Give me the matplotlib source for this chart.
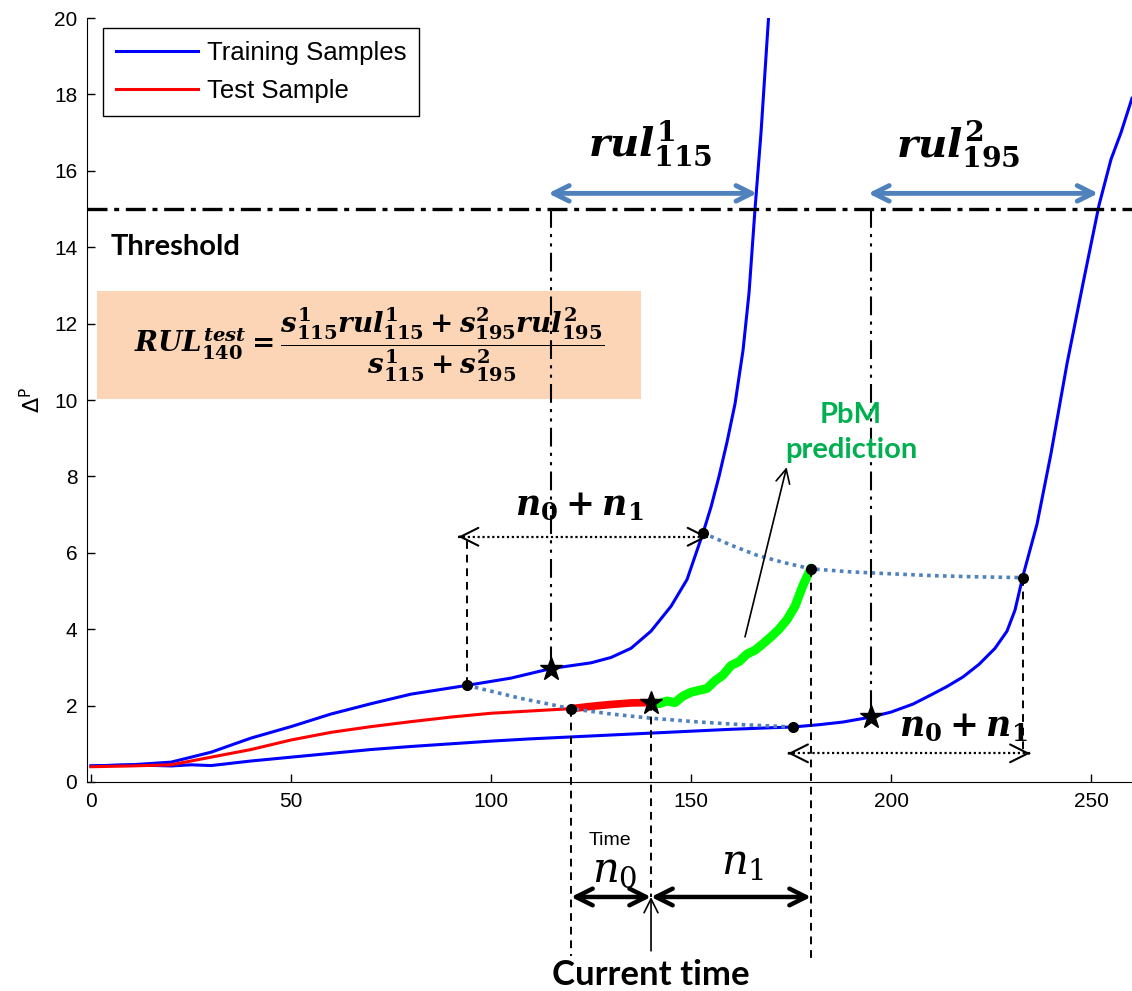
import matplotlib
matplotlib.use('Agg')
import matplotlib.pyplot as plt
from matplotlib.patches import Rectangle

plt.rcParams['font.family'] = 'Liberation Sans'
# bold italic serif for the "Cambria Math" style formulas
plt.rcParams['mathtext.it'] = 'DejaVu Serif:italic:bold'
plt.rcParams['mathtext.rm'] = 'DejaVu Serif:bold'
plt.rcParams['mathtext.bf'] = 'DejaVu Serif:bold'

# training sample 1 (fails first)
train1_t = [0, 10, 20, 30, 40, 50, 60, 70, 80, 94, 105, 115, 125, 130, 135, 140, 145, 149,
            153, 155, 157, 159, 161, 163, 164.5, 166, 167.5, 169.5]
train1_y = [0.42, 0.45, 0.52, 0.78, 1.15, 1.45, 1.78, 2.05, 2.3, 2.53, 2.72, 2.97, 3.12, 3.26,
            3.5, 3.95, 4.6, 5.3, 6.52, 7.2, 8.0, 8.9, 9.9, 11.3, 12.8, 15.0, 17.0, 20.2]

# training sample 2
train2_t = [0, 10, 20, 25, 30, 40, 50, 60, 70, 80, 90, 100, 110, 120, 130, 140, 150, 160, 170,
            175.5, 182, 188, 195, 200, 205.5, 210, 214, 218, 222, 226, 229, 231, 233, 236.5,
            240, 244, 248, 252, 255, 257.5, 260.25]
train2_y = [0.42, 0.45, 0.42, 0.45, 0.43, 0.55, 0.65, 0.75, 0.85, 0.93, 1.0, 1.07, 1.13, 1.18,
            1.23, 1.28, 1.33, 1.38, 1.42, 1.44, 1.5, 1.57, 1.7, 1.83, 2.04, 2.28, 2.5, 2.75,
            3.08, 3.5, 3.95, 4.5, 5.4, 6.75, 8.6, 10.95, 13.05, 15.1, 16.3, 17.0, 17.9]

# test sample, history and the n0 window
test_t = [0, 10, 20, 25, 30, 40, 50, 60, 70, 80, 90, 100, 110, 120]
test_y = [0.4, 0.42, 0.45, 0.55, 0.65, 0.85, 1.1, 1.3, 1.45, 1.58, 1.7, 1.8, 1.86, 1.92]
window_t = [120, 125, 130, 135, 140]
window_y = [1.92, 1.98, 2.03, 2.07, 2.08]

# PbM prediction over n1
pbm_t = [140, 142, 144, 146, 148, 150, 152, 154, 156, 158, 160, 162, 164, 166, 168, 170, 172,
         174, 176, 178, 180]
pbm_y = [2.08, 2.05, 2.12, 2.08, 2.25, 2.35, 2.4, 2.45, 2.65, 2.8, 3.05, 3.15, 3.35, 3.45,
         3.62, 3.8, 4.0, 4.25, 4.6, 5.15, 5.6]

# dotted links between window end points
low_link_t = [94, 107, 120, 130, 140, 152, 163, 175.5]
low_link_y = [2.53, 2.2, 1.92, 1.78, 1.67, 1.57, 1.5, 1.44]
up_link_t = [153, 160, 166.4, 173, 180, 190, 200, 211, 222, 233]
up_link_y = [6.52, 6.2, 5.94, 5.75, 5.58, 5.5, 5.45, 5.4, 5.37, 5.35]

dots_t = [94, 153, 120, 180, 175.5, 233]
dots_y = [2.53, 6.52, 1.92, 5.58, 1.44, 5.35]
stars_t = [115, 140, 195]
stars_y = [2.97, 2.08, 1.7]

threshold = 15
ticks_x = [0, 50, 100, 150, 200, 250]
ticks_y = [0, 2, 4, 6, 8, 10, 12, 14, 16, 18, 20]

blue = '#0000ff'
red = '#ff0000'
steel = '#4f81bd'
green = '#00ff00'

fig = plt.figure(figsize=(11.32, 9.91), dpi=100)
ax = fig.add_axes([0.0769, 0.2109, 0.9231, 0.7709])
ax.set_xlim(-1, 260.25)
ax.set_ylim(0, 20)

ax.plot(train1_t, train1_y, color=blue, lw=2.2, label='Training Samples')
ax.plot(train2_t, train2_y, color=blue, lw=2.2)
ax.plot(test_t, test_y, color=red, lw=2.2, label='Test Sample')
ax.plot(window_t, window_y, color=red, lw=5.5, solid_capstyle='round')
ax.plot(pbm_t, pbm_y, color=green, lw=6.5, solid_capstyle='round', solid_joinstyle='round')

ax.plot(low_link_t, low_link_y, color=steel, lw=2.6, ls=(0, (1, 1.2)))
ax.plot(up_link_t, up_link_y, color=steel, lw=2.6, ls=(0, (1, 1.2)))

# threshold and rul construction
ax.axhline(threshold, color='k', lw=2.4, ls=(0, (6, 2, 1.5, 2)))
ax.text(5, 14.0, 'Threshold', fontsize=21, fontweight='bold', family='Lato',
        ha='left', va='center')
ax.plot([115, 115], [threshold, stars_y[0]], color='k', lw=1.5, ls=(0, (9, 3, 1.5, 3, 1.5, 3)))
ax.plot([195, 195], [threshold, stars_y[2]], color='k', lw=1.5, ls=(0, (9, 3, 1.5, 3, 1.5, 3)))

for x0, x1 in [(114.3, 166.5), (194.3, 251.8)]:
    ax.annotate('', xy=(x1, 15.41), xytext=(x0, 15.41),
                arrowprops=dict(arrowstyle='<->', color=steel, lw=3.5, mutation_scale=28,
                                shrinkA=0, shrinkB=0))
ax.text(139.8, 16.7, r'$rul_{115}^{1}$', fontsize=29, math_fontfamily='custom',
        ha='center', va='center')
ax.text(216.8, 16.7, r'$rul_{195}^{2}$', fontsize=29, math_fontfamily='custom',
        ha='center', va='center')

# RUL formula box
ax.add_patch(Rectangle((1.5, 10.03), 136, 2.82, facecolor='#fbd5b5', edgecolor='none', zorder=1))
ax.text(69.5, 11.45,
        r'$RUL_{140}^{test}=\dfrac{s_{115}^{1}rul_{115}^{1}+s_{195}^{2}rul_{195}^{2}}'
        r'{s_{115}^{1}+s_{195}^{2}}$',
        fontsize=20, math_fontfamily='custom', ha='center', va='center', zorder=2)

# n0 + n1 windows on the training samples
dash = dict(color='k', lw=1.4, ls=(0, (4, 3)), clip_on=False)
ax.plot([94, 94], [dots_y[0], 6.42], **dash)
ax.plot([233, 233], [dots_y[5], 0.75], **dash)
ax.plot([120, 120], [dots_y[2], -4.55], **dash)
ax.plot([140, 140], [stars_y[1], -3.01], **dash)
ax.plot([180, 180], [dots_y[3], -4.75], **dash)

for x0, x1, y in [(91.8, 154.2, 6.42), (174.2, 234.8, 0.75)]:
    ax.plot([x0, x1], [y, y], color='k', lw=1.6, ls=(0, (1, 1.2)))
    for xe, xs in [(x0, x0 + 0.3), (x1, x1 - 0.3)]:
        ax.annotate('', xy=(xe, y), xytext=(xs, y),
                    arrowprops=dict(arrowstyle='->', color='k', lw=1.5, mutation_scale=32,
                                    shrinkA=0, shrinkB=0))
ax.text(122, 7.25, r'$n_{0}+n_{1}$', fontsize=25, math_fontfamily='custom',
        ha='center', va='center')
ax.text(218, 1.45, r'$n_{0}+n_{1}$', fontsize=25, math_fontfamily='custom',
        ha='center', va='center')

ax.plot(dots_t, dots_y, 'o', color='k', ms=7, zorder=5)
ax.plot(stars_t, stars_y, '*', color='k', ms=17, zorder=5)

# PbM prediction pointer
ax.annotate('', xy=(173.9, 8.24), xytext=(163.5, 3.8),
            arrowprops=dict(arrowstyle='->', color='k', lw=1.2, mutation_scale=25,
                            shrinkA=0, shrinkB=0))
ax.text(190, 9.15, 'PbM\nprediction', fontsize=21, fontweight='bold', family='Lato',
        color='#00b050', ha='center', va='center', linespacing=1.4)

# current time construction below the axis
for x0, x1 in [(120, 140), (140, 180)]:
    ax.annotate('', xy=(x1, -3.01), xytext=(x0, -3.01), annotation_clip=False,
                arrowprops=dict(arrowstyle='<->', color='k', lw=3.2, mutation_scale=30,
                                shrinkA=0, shrinkB=0))
ax.annotate('', xy=(140, -3.01), xytext=(140, -4.42), annotation_clip=False,
            arrowprops=dict(arrowstyle='->', color='k', lw=1.2, mutation_scale=25,
                            shrinkA=0, shrinkB=0))
ax.text(131, -2.32, r'$n_0$', fontsize=30, math_fontfamily='dejavuserif',
        ha='center', va='center', clip_on=False)
ax.text(163, -2.12, r'$n_1$', fontsize=30, math_fontfamily='dejavuserif',
        ha='center', va='center', clip_on=False)
ax.text(140, -5.05, 'Current time', fontsize=25, fontweight='bold', family='Lato',
        ha='center', va='center', clip_on=False)

ax.set_xticks(ticks_x)
ax.set_yticks(ticks_y)
ax.tick_params(direction='in', length=6, width=1, labelsize=15, pad=7)
ax.spines['top'].set_visible(False)
ax.spines['right'].set_visible(False)
ax.set_xlabel('Time', fontsize=14, labelpad=15)
ax.set_ylabel(r'$\Delta^{\mathrm{P}}$', fontsize=16, labelpad=6)

leg = ax.legend(loc='upper left', bbox_to_anchor=(0.0153, 0.987), borderaxespad=0,
                fontsize=18.5, handlelength=3.2, handletextpad=0.35, borderpad=0.5,
                labelspacing=0.55, fancybox=False, framealpha=1, edgecolor='k')
leg.get_frame().set_linewidth(1.0)

fig.savefig('out.png', dpi=100)
